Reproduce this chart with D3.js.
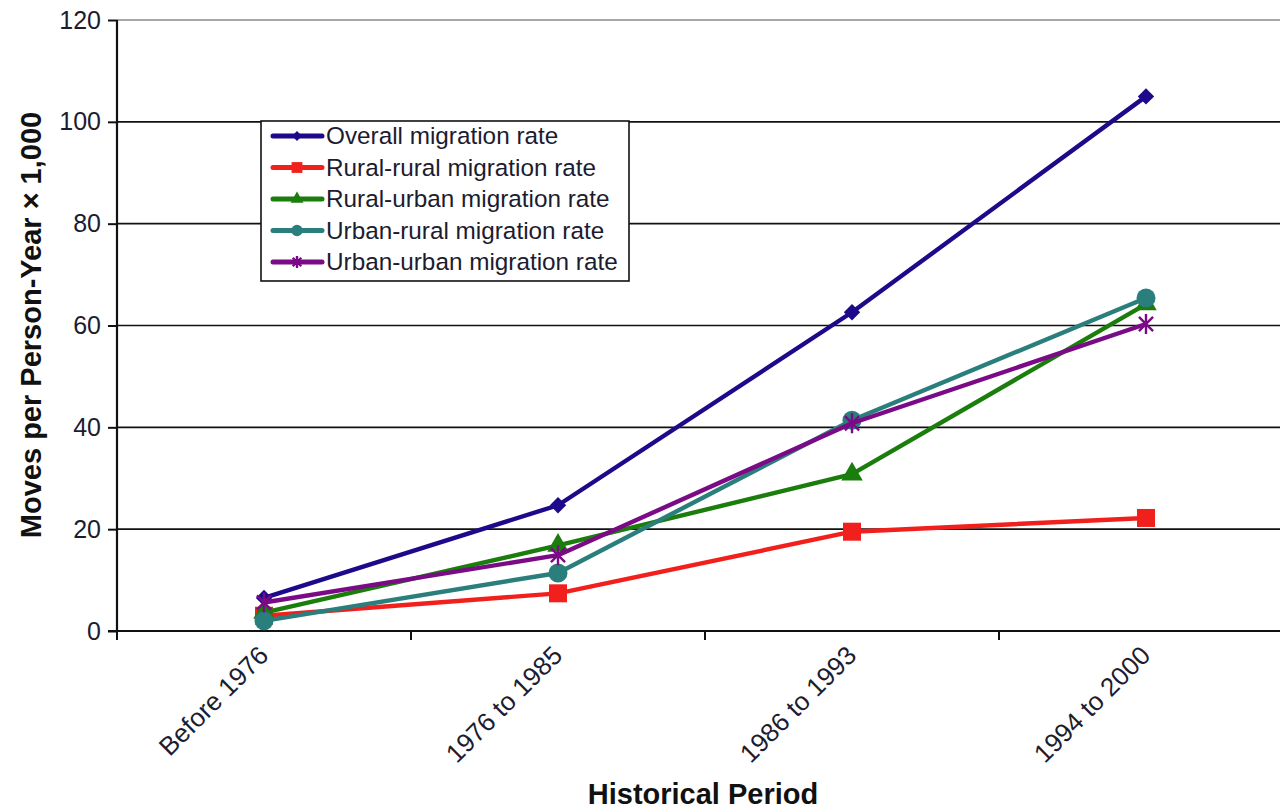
<!DOCTYPE html>
<html>
<head>
<meta charset="utf-8">
<script src="https://cdn.jsdelivr.net/npm/d3@7"></script>
<style>
  html, body { margin: 0; padding: 0; background: #fff; }
  svg { display: block; font-family: Arial, "Liberation Sans", sans-serif; }
</style>
</head>
<body>
<svg id="chart" width="1280" height="811"></svg>
<script>
// Historical periods (x categories)
const periods = ["Before 1976", "1976 to 1985", "1986 to 1993", "1994 to 2000"];

// Moves per person-year × 1,000 for each migration type
const overallRate     = [6.5, 24.7, 62.6, 105.0];
const ruralRuralRate  = [3.0, 7.4, 19.5, 22.2];
const ruralUrbanRate  = [3.6, 16.8, 30.8, 64.2];
const urbanRuralRate  = [2.0, 11.4, 41.4, 65.4];
const urbanUrbanRate  = [5.6, 14.9, 40.8, 60.3];

const seriesNames = [
  "Overall migration rate",
  "Rural-rural migration rate",
  "Rural-urban migration rate",
  "Urban-rural migration rate",
  "Urban-urban migration rate"
];

const yTicks = [0, 20, 40, 60, 80, 100, 120];

const seriesStyle = [
  { color: "#1d0a8a", marker: "diamond" },
  { color: "#f2201c", marker: "square" },
  { color: "#1a7d0c", marker: "triangle" },
  { color: "#2a7e7c", marker: "circle" },
  { color: "#7a0a86", marker: "asterisk" }
];

const seriesValues = [overallRate, ruralRuralRate, ruralUrbanRate, urbanRuralRate, urbanUrbanRate];
const series = seriesNames.map((name, i) => ({
  name,
  values: seriesValues[i],
  color: seriesStyle[i].color,
  marker: seriesStyle[i].marker
}));

const svg = d3.select("#chart");
const plot = { left: 117, right: 1293, top: 20, bottom: 631 };
const textColor = "#1c1c30";

const x = d3.scaleBand().domain(periods).range([plot.left, plot.right]);
const xc = d => x(d) + x.bandwidth() / 2;
const y = d3.scaleLinear().domain([0, 120]).range([plot.bottom, plot.top]);

// Horizontal gridlines
svg.append("g")
  .selectAll("line")
  .data(yTicks.filter(t => t > 0))
  .join("line")
  .attr("x1", plot.left).attr("x2", 1280)
  .attr("y1", d => y(d)).attr("y2", d => y(d))
  .attr("stroke", d => d === 120 ? "#8a8a8a" : "#111")
  .attr("stroke-width", 1.6);

// Y axis
const yAxis = svg.append("g")
  .attr("transform", `translate(${plot.left},0)`)
  .call(d3.axisLeft(y).tickValues(yTicks).tickSize(9).tickPadding(7).tickFormat(d3.format("d")));
yAxis.select(".domain").attr("stroke", "#111").attr("stroke-width", 2.2)
  .attr("d", `M0,${plot.top}V${plot.bottom}`);
yAxis.selectAll(".tick line").attr("stroke", "#111").attr("stroke-width", 2);
yAxis.selectAll(".tick text")
  .attr("font-size", 25).attr("fill", textColor)
  .attr("font-family", "Arial, 'Liberation Sans', sans-serif");

// X axis: ticks at band boundaries
const xAxisG = svg.append("g");
xAxisG.append("line")
  .attr("x1", plot.left - 9).attr("x2", 1280)
  .attr("y1", plot.bottom).attr("y2", plot.bottom)
  .attr("stroke", "#111").attr("stroke-width", 2.2);
xAxisG.selectAll("line.tk")
  .data(periods)
  .join("line")
  .attr("class", "tk")
  .attr("x1", d => x(d)).attr("x2", d => x(d))
  .attr("y1", plot.bottom).attr("y2", plot.bottom + 9)
  .attr("stroke", "#111").attr("stroke-width", 2);
xAxisG.selectAll("text")
  .data(periods)
  .join("text")
  .attr("transform", d => `translate(${xc(d) + 6},${plot.bottom + 26}) rotate(-45)`)
  .attr("text-anchor", "end")
  .attr("font-size", 26)
  .attr("fill", textColor)
  .text(d => d);

// Axis titles
svg.append("text")
  .attr("transform", `translate(41,325) rotate(-90)`)
  .attr("text-anchor", "middle")
  .attr("font-size", 29)
  .attr("font-weight", "bold")
  .attr("fill", "#111")
  .text("Moves per Person-Year × 1,000");

svg.append("text")
  .attr("x", 703).attr("y", 804)
  .attr("text-anchor", "middle")
  .attr("font-size", 29)
  .attr("font-weight", "bold")
  .attr("fill", "#111")
  .text("Historical Period");

// Marker drawing
function drawMarker(g, type, color, scale) {
  const s = scale || 1;
  if (type === "diamond") {
    g.append("path").attr("d", d3.symbol(d3.symbolDiamond2, 170 * s * s)())
      .attr("fill", color);
  } else if (type === "square") {
    g.append("rect").attr("x", -9 * s).attr("y", -9 * s)
      .attr("width", 18 * s).attr("height", 18 * s).attr("fill", color);
  } else if (type === "triangle") {
    g.append("path").attr("d", d3.symbol(d3.symbolTriangle, 200 * s * s)())
      .attr("fill", color);
  } else if (type === "circle") {
    g.append("circle").attr("r", 9.5 * s).attr("fill", color);
  } else if (type === "asterisk") {
    const r = 10 * s;
    const a = r * Math.cos(Math.PI / 4);
    const p = `M${-a},${-a}L${a},${a}M${a},${-a}L${-a},${a}M0,${-r}L0,${r}`;
    g.append("path").attr("d", p).attr("stroke", color).attr("stroke-width", 2.4)
      .attr("fill", "none");
  }
}

const line = d3.line().x((d, i) => xc(periods[i])).y(d => y(d));

// Series lines and markers
series.forEach(s => {
  const g = svg.append("g");
  g.append("path")
    .attr("d", line(s.values))
    .attr("fill", "none")
    .attr("stroke", s.color)
    .attr("stroke-width", 4.4)
    .attr("stroke-linejoin", "round");
  s.values.forEach((v, i) => {
    const mg = g.append("g").attr("transform", `translate(${xc(periods[i])},${y(v)})`);
    drawMarker(mg, s.marker, s.color, 1);
  });
});

// Legend
const legend = svg.append("g");
legend.append("rect")
  .attr("x", 261).attr("y", 121)
  .attr("width", 368).attr("height", 160)
  .attr("fill", "#fff").attr("stroke", "#111").attr("stroke-width", 1.6);

series.forEach((s, i) => {
  const ly = 136 + i * 31.5;
  const row = legend.append("g");
  row.append("line")
    .attr("x1", 273).attr("x2", 322)
    .attr("y1", ly).attr("y2", ly)
    .attr("stroke", s.color).attr("stroke-width", 5).attr("stroke-linecap", "round");
  const mg = row.append("g").attr("transform", `translate(297,${ly})`);
  drawMarker(mg, s.marker, s.color, 0.6);
  row.append("text")
    .attr("x", 326).attr("y", ly + 8)
    .attr("font-size", 24.3)
    .attr("fill", textColor)
    .text(s.name);
});
</script>
</body>
</html>
